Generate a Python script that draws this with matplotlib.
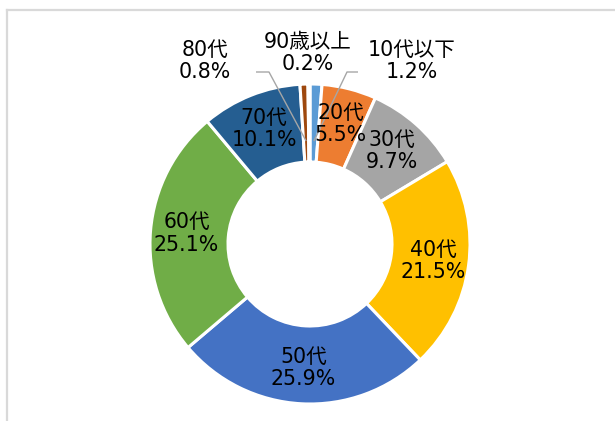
"""
Donut chart of age-group shares (Excel-style), rebuilt with matplotlib.
Saves out.png at 615x421.
"""

import matplotlib.pyplot as plt
import numpy as np
from matplotlib.lines import Line2D

plt.rcParams["font.family"] = ["DejaVu Sans", "Noto Sans CJK JP"]

LABELS = ["10代以下", "20代", "30代", "40代", "50代", "60代", "70代", "80代", "90歳以上"]
VALUES = [1.2, 5.5, 9.7, 21.5, 25.9, 25.1, 10.1, 0.8, 0.2]
COLORS = ["#5B9BD5", "#ED7D31", "#A5A5A5", "#FFC000", "#4472C4",
          "#70AD47", "#255E91", "#9E480E", "#636363"]

# small slices get their label outside, with a leader line (pixel offsets from the centre)
OUTSIDE = {
    "10代以下": (102, -183),
    "80代": (-105, -183),
    "90歳以上": (-2, -191),
}
LEADER = {"10代以下": 48, "80代": -54}   # x of the leader's outer end, from centre

W, H = 615, 421
DPI = 100
CX, CY = 310, 244          # pixel centre (y from top)
R_OUT, R_IN = 160, 82
FONT = 14.8

fig = plt.figure(figsize=(W / DPI, H / DPI), dpi=DPI)
ax = fig.add_axes([0, 0, 1, 1])

center = (CX, H - CY)
wedges, _ = ax.pie(
    VALUES,
    colors=COLORS,
    startangle=90,
    counterclock=False,
    radius=R_OUT,
    center=center,
    wedgeprops=dict(width=R_OUT - R_IN, edgecolor="white", linewidth=2.2),
)
ax.set_xlim(0, W)
ax.set_ylim(0, H)
ax.set_aspect("equal")
ax.axis("off")

r_mid = (R_OUT + R_IN) / 2 + 3
r_lead = 103
total = sum(VALUES)
cum = np.cumsum([0] + VALUES[:-1])
for lab, val, c0 in zip(LABELS, VALUES, cum):
    mid = (c0 + val / 2) / total * 2 * np.pi   # clockwise from top
    mx = center[0] + r_mid * np.sin(mid)
    my = center[1] + r_mid * np.cos(mid)
    text = f"{lab}\n{val:.1f}%"
    if lab in OUTSIDE:
        dx, dy = OUTSIDE[lab]
        ax.text(CX + dx, H - (CY + dy), text, ha="center", va="center",
                fontsize=FONT, color="#000000", linespacing=1.15)
        if lab in LEADER:
            sx = CX + LEADER[lab]
            sy = H - 72
            ex = sx + (13 if LEADER[lab] < 0 else -11)
            lx = center[0] + r_lead * np.sin(mid)
            ly = center[1] + r_lead * np.cos(mid)
            ax.plot([sx, ex, lx], [sy, sy, ly], color="#A6A6A6", lw=1.0,
                    solid_capstyle="butt", zorder=3)
    else:
        ax.text(mx, my, text, ha="center", va="center",
                fontsize=FONT, color="#000000", linespacing=1.15)

# chart-area border, cropped at the right and bottom
fig.add_artist(Line2D([7 / W, 1], [1 - 10 / H, 1 - 10 / H],
                      transform=fig.transFigure, color="#D9D9D9", lw=1.6))
fig.add_artist(Line2D([7 / W, 7 / W], [0, 1 - 10 / H],
                      transform=fig.transFigure, color="#D9D9D9", lw=1.6))

fig.savefig("out.png", dpi=DPI, facecolor="white")
